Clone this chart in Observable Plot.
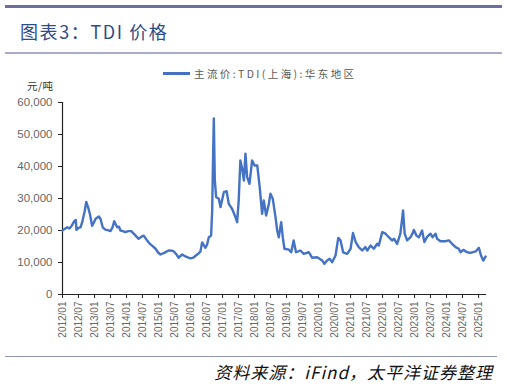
<!DOCTYPE html>
<html>
<head>
<meta charset="utf-8">
<script src="https://cdn.jsdelivr.net/npm/d3@7"></script>
<script src="https://cdn.jsdelivr.net/npm/@observablehq/plot@0.6"></script>
<style>
  html, body { margin: 0; padding: 0; background: #fff; }
  #wrap { position: relative; width: 507px; height: 384px; overflow: hidden; background: #fff; }
  .hr { position: absolute; }
  #title { position: absolute; left: 20px; top: 18px; font-family: "Noto Sans CJK SC", sans-serif; font-size: 18px; color: #2f4c87; letter-spacing: 1.6px; white-space: nowrap; }
  #legend { position: absolute; left: 163px; top: 66px; font-family: "Noto Sans CJK SC", sans-serif; font-size: 10.5px; color: #595959; white-space: nowrap; display: flex; align-items: center; letter-spacing: 2.4px; }
  #legend .sw { display: inline-block; width: 27px; height: 2.5px; background: #4472c4; margin-right: 4px; }
  #unit { position: absolute; left: 27px; top: 78px; font-family: "Noto Sans CJK SC", sans-serif; font-size: 10.5px; color: #333; white-space: nowrap; letter-spacing: 0.5px; }
  #source { position: absolute; right: 14px; top: 359px; font-family: "Noto Sans CJK SC", sans-serif; font-style: italic; font-size: 17px; color: #111; white-space: nowrap; letter-spacing: 1px; }
  #chart { position: absolute; left: 0; top: 60px; }
</style>
</head>
<body>
<div id="wrap">
  <div class="hr" style="left:5px; top:5px; width:497px; height:3px; background:#6b6f9c;"></div>
  <div id="title">图表3：TDI 价格</div>
  <div class="hr" style="left:5px; top:52px; width:497px; height:2px; background:#a9abca;"></div>
  <div id="legend"><span class="sw"></span><span>主流价:TDI(上海):华东地区</span></div>
  <div id="unit">元/吨</div>
  <div id="chart"></div>
  <div class="hr" style="left:5px; top:356px; width:492px; height:1px; background:#8f95bd;"></div>
  <div id="source">资料来源：iFind，太平洋证券整理</div>
</div>
<script>
// ---- Data ----
const dates = [
  "2012-01-01","2012-01-25","2012-02-23","2012-03-19","2012-04-16","2012-05-16","2012-06-01","2012-06-08",
  "2012-07-01","2012-07-25","2012-08-13","2012-09-10","2012-09-28","2012-10-19","2012-11-10","2012-12-04",
  "2012-12-19","2013-01-13","2013-02-19","2013-03-10","2013-04-04","2013-05-04","2013-06-01","2013-07-01",
  "2013-07-25","2013-08-13","2013-09-16","2013-10-07","2013-10-23","2013-11-19","2013-12-19","2014-01-19",
  "2014-02-23","2014-04-01","2014-05-19","2014-06-16","2014-07-16","2014-08-23","2014-09-19","2014-10-19",
  "2014-11-28","2014-12-25","2015-01-23","2015-03-01","2015-04-01","2015-04-28","2015-06-01","2015-06-23",
  "2015-07-25","2015-08-19","2015-09-28","2015-11-04","2015-12-01","2016-01-01","2016-02-01","2016-02-28",
  "2016-04-04","2016-04-23","2016-05-13","2016-06-19","2016-07-07","2016-07-28","2016-08-23","2016-09-04",
  "2016-09-16","2016-09-23","2016-10-04","2016-10-19","2016-11-19","2016-12-08","2017-01-16","2017-02-16",
  "2017-03-13","2017-04-19","2017-05-28","2017-06-16","2017-07-04","2017-07-23","2017-08-13","2017-09-01",
  "2017-09-19","2017-10-08","2017-11-04","2017-12-04","2018-01-01","2018-02-01","2018-03-01","2018-03-28",
  "2018-04-16","2018-05-13","2018-06-13","2018-07-01","2018-07-28","2018-08-28","2018-09-16","2018-10-04",
  "2018-11-01","2018-11-19","2018-12-08","2019-01-28","2019-02-23","2019-03-23","2019-04-19","2019-06-08",
  "2019-07-16","2019-09-13","2019-10-19","2019-12-16","2020-02-13","2020-03-08","2020-04-08","2020-05-08",
  "2020-06-04","2020-07-13","2020-08-13","2020-09-08","2020-10-08","2020-11-23","2021-01-01","2021-01-28",
  "2021-02-28","2021-04-04","2021-05-13","2021-06-19","2021-07-10","2021-08-16","2021-09-23","2021-11-01",
  "2021-11-19","2021-12-28","2022-02-04","2022-03-13","2022-04-19","2022-05-13","2022-06-16","2022-07-23",
  "2022-08-23","2022-09-10","2022-10-08","2022-11-16","2022-12-16","2022-12-23","2023-01-23","2023-02-19",
  "2023-03-28","2023-04-23","2023-05-22","2023-07-01","2023-07-25","2023-08-28","2023-09-16","2023-10-23",
  "2023-12-19","2024-01-28","2024-03-04","2024-04-13","2024-05-19","2024-06-08","2024-07-10","2024-08-23",
  "2024-10-01","2024-11-28","2025-01-04","2025-01-28","2025-02-23","2025-03-23"
];
const prices = [
  20000,20500,21000,20600,21500,23000,23300,20200,
  20800,21000,22600,26000,28900,27300,25000,21500,
  22200,23700,24400,23600,21000,20300,20100,19800,
  21000,22900,21000,21200,20000,19800,19500,19800,
  19800,18800,17400,18000,18400,16900,16000,15300,
  14300,13200,12500,12900,13400,13750,13700,13500,
  12500,11500,12500,11900,11600,11300,11500,12100,
  12900,13400,16300,14600,15500,17900,18400,26000,
  45000,55000,36000,30500,29900,27300,32000,32300,
  28300,26800,24200,22600,29400,41900,39300,35600,
  44000,36700,34600,41900,40300,40300,33500,25200,
  29400,24700,28300,31500,29900,24200,20000,17900,
  22600,17900,14300,14000,13200,16900,13200,13750,
  12700,13200,11500,11650,10600,9600,10600,11150,
  10100,12200,17700,16900,13200,12700,14300,19200,
  16400,14800,13750,14800,13750,15300,14300,15850,
  15300,19500,19000,17900,16900,17400,15850,19000,
  26300,19000,16900,17900,19500,20200,18400,17900,
  20000,16400,17900,19000,17900,19000,17400,16650,
  16650,16900,15850,14800,14300,13200,13950,13200,
  13000,13450,14600,12200,10600,11900
];
const yTicks = [0, 10000, 20000, 30000, 40000, 50000, 60000];
const xTickLabels = [
  "2012/01","2012/07","2013/01","2013/07","2014/01","2014/07","2015/01","2015/07",
  "2016/01","2016/07","2017/01","2017/07","2018/01","2018/07","2019/01","2019/07",
  "2020/01","2020/07","2021/01","2021/07","2022/01","2022/07","2023/01","2023/07",
  "2024/01","2024/07","2025/01"
];
const xStart = "2012-01-01";
const xEnd = "2025-04-01";

// ---- Build table ----
const data = dates.map((d, i) => ({date: new Date(d + "T00:00:00Z"), value: prices[i]}));
const tickDates = xTickLabels.map(s => new Date(s.replace("/", "-") + "-01T00:00:00Z"));
const d0 = new Date(xStart + "T00:00:00Z");
const d1 = new Date(xEnd + "T00:00:00Z");

const chart = Plot.plot({
  width: 507,
  height: 290,
  marginTop: 42,
  marginBottom: 56,
  marginLeft: 62,
  marginRight: 21,
  style: {fontFamily: "Liberation Sans, Arial, sans-serif", fontSize: "11px", color: "#595959", background: "transparent", overflow: "visible"},
  x: {type: "utc", domain: [d0, d1]},
  y: {domain: [0, 60000]},
  marks: [
    Plot.axisY({ticks: yTicks, tickFormat: d3.format(","), tickSize: 4, tickPadding: 6, label: null, stroke: "#222", fill: "#666", fontSize: 11.5}),
    Plot.axisX({ticks: tickDates, tickFormat: d3.utcFormat("%Y/%m"), tickRotate: -90, tickSize: 4, tickPadding: 3, label: null, stroke: "#222", fill: "#666", fontSize: 10}),
    Plot.ruleX([d0], {y1: 0, y2: 60000, stroke: "#222", strokeWidth: 1.2}),
    Plot.ruleY([0], {stroke: "#222", strokeWidth: 1.2}),
    Plot.line(data, {x: "date", y: "value", stroke: "#4472c4", strokeWidth: 2.4, strokeLinejoin: "round"})
  ]
});
document.getElementById("chart").appendChild(chart);
</script>
</body>
</html>
